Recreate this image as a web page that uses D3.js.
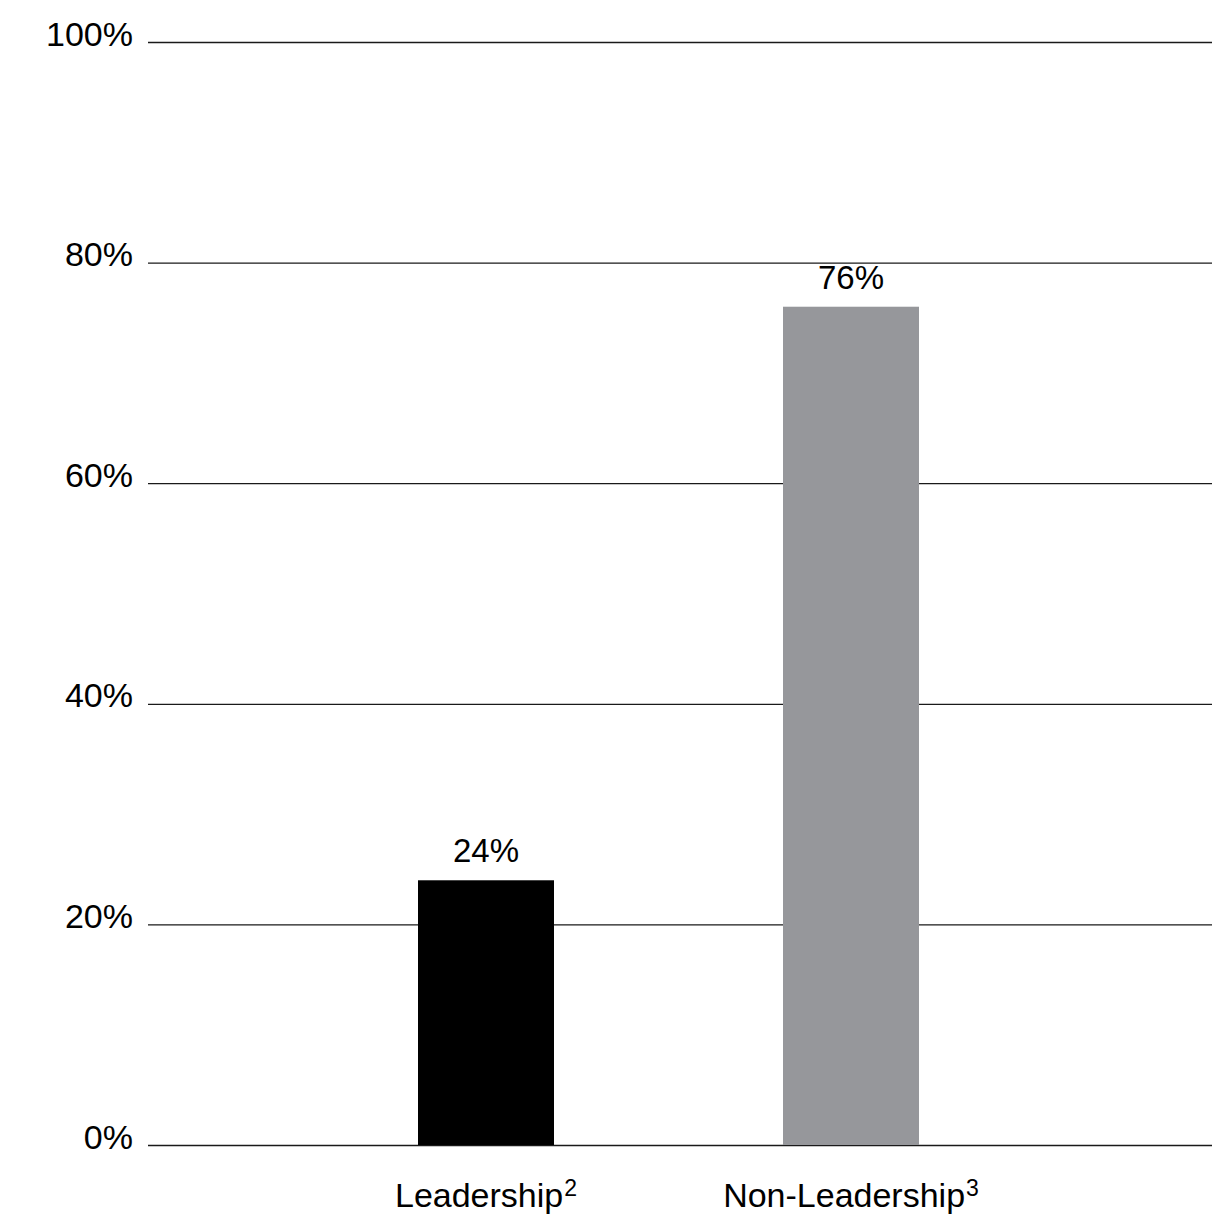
<!DOCTYPE html>
<html>
<head>
<meta charset="utf-8">
<script src="https://cdn.jsdelivr.net/npm/d3@7"></script>
<style>
  html, body { margin: 0; padding: 0; background: #fff; }
  svg text { font-family: "Liberation Sans", Arial, Helvetica, sans-serif; fill: #000; }
</style>
</head>
<body>
<div id="chart"></div>
<script>
// Share of respondents by role group
const categories = ["Leadership", "Non-Leadership"];
const footnotes = ["2", "3"];
const values = [24, 76];
const barColors = ["#000000", "#96979b"];
const tickValues = [0, 20, 40, 60, 80, 100];

const width = 1224, height = 1220;
const plot = { left: 148, right: 1212, top: 42, bottom: 1145 };

const svg = d3.select("#chart").append("svg")
  .attr("width", width)
  .attr("height", height);

const y = d3.scaleLinear().domain([0, 100]).range([plot.bottom, plot.top]);

// Two bands centred at the bar positions
const x = d3.scaleBand()
  .domain(categories)
  .range([303.5, 1033.5])
  .paddingInner(0.6274)
  .paddingOuter(0.3137);

// Horizontal gridlines with percentage labels
const yAxis = d3.axisLeft(y)
  .tickValues(tickValues)
  .tickSize(-(plot.right - plot.left))
  .tickPadding(15)
  .tickFormat(d => d + "%");

const gy = svg.append("g")
  .attr("transform", `translate(${plot.left},0)`)
  .call(yAxis);
gy.select(".domain").remove();
gy.selectAll(".tick line")
  .attr("stroke", "#1a1a1a")
  .attr("stroke-width", 1.3);
gy.selectAll(".tick text")
  .attr("font-size", 34)
  .attr("dy", "0.09em")
  .attr("fill", "#000");

// Bars
svg.append("g").selectAll("rect")
  .data(categories)
  .join("rect")
  .attr("x", d => x(d))
  .attr("width", x.bandwidth())
  .attr("y", (d, i) => y(values[i]))
  .attr("height", (d, i) => y(0) - y(values[i]))
  .attr("fill", (d, i) => barColors[i]);

// Value labels above bars
svg.append("g").selectAll("text")
  .data(categories)
  .join("text")
  .attr("x", d => x(d) + x.bandwidth() / 2)
  .attr("y", (d, i) => y(values[i]) - 18)
  .attr("text-anchor", "middle")
  .attr("font-size", 33)
  .text((d, i) => values[i] + "%");

// Category labels with footnote markers
const cat = svg.append("g").selectAll("text")
  .data(categories)
  .join("text")
  .attr("x", d => x(d) + x.bandwidth() / 2)
  .attr("y", 1207)
  .attr("text-anchor", "middle")
  .attr("font-size", 34);
cat.append("tspan").text(d => d);
cat.append("tspan")
  .attr("font-size", 23)
  .attr("dx", 1)
  .attr("dy", -11)
  .text((d, i) => footnotes[i]);
</script>
</body>
</html>
